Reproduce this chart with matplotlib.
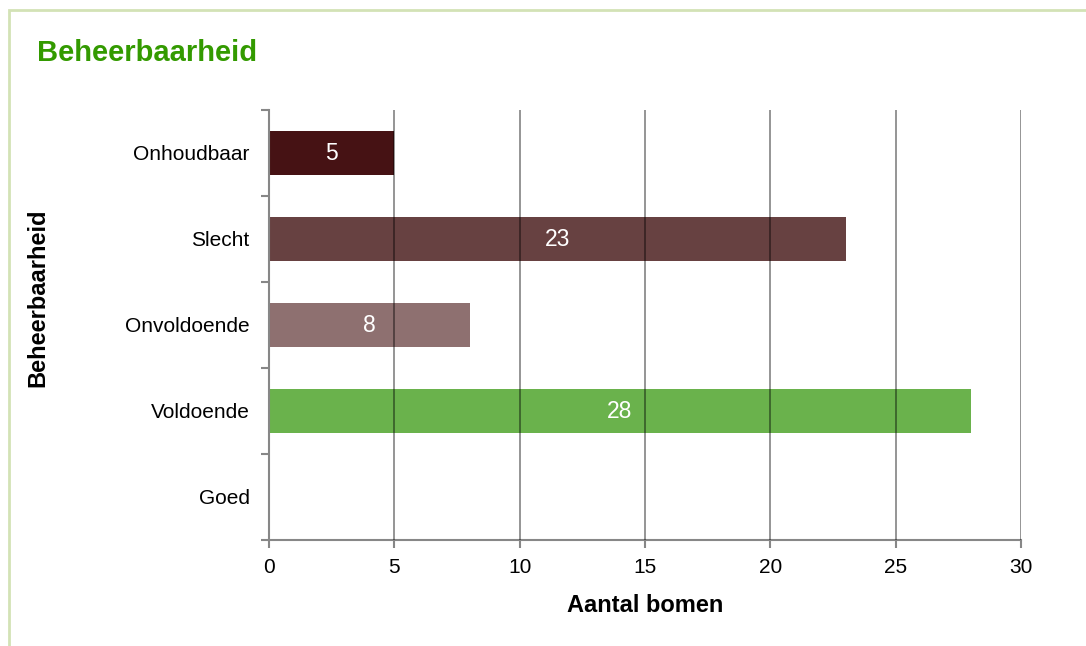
import matplotlib
matplotlib.use("Agg")
import matplotlib.pyplot as plt
from matplotlib.patches import Rectangle

plt.rcParams['font.family'] = ['Liberation Sans', 'DejaVu Sans']

categories = ["Onhoudbaar", "Slecht", "Onvoldoende", "Voldoende", "Goed"]
values = [5, 23, 8, 28, 0]
colors = ["#461214", "#674141", "#8e7070", "#6ab24c", "#6ab24c"]
xticks = [0, 5, 10, 15, 20, 25, 30]

W, H = 1086, 646
fig = plt.figure(figsize=(W / 100, H / 100), dpi=100)
fig.patches.append(Rectangle((9/W, -0.05), 1.2, 1 - 10/H + 0.05,
                             transform=fig.transFigure, fill=False,
                             edgecolor="#d3e2b6", linewidth=2, zorder=0))
fig.text(37/W, 1 - 53/H, "Beheerbaarheid", color="#339a00",
         fontsize=21, fontweight="bold", va="center", ha="left")

ax = fig.add_axes([269/W, 1 - 540/H, (1021 - 269)/W, (540 - 110)/H])
ypos = list(range(len(categories)))
bars = ax.barh(ypos, values, height=0.51, color=colors, zorder=2)
for b, v in zip(bars, values):
    if v > 0:
        ax.text(v / 2, b.get_y() + b.get_height() / 2, str(v), color="white",
                ha="center", va="center", fontsize=16.5, zorder=4)

ax.set_xlim(0, 30)
ax.set_ylim(len(categories) - 0.5, -0.5)
ax.set_yticks(ypos)
ax.set_yticklabels(categories, fontsize=15)
ax.set_yticks([i - 0.5 for i in range(len(categories) + 1)], minor=True)
ax.tick_params(axis='y', which='major', length=0, pad=14)
ax.tick_params(axis='y', which='minor', length=6, width=1.5, color="#878787", direction='out')
ax.set_xticks(xticks)
ax.set_xticklabels([str(x) for x in xticks], fontsize=15)
ax.tick_params(axis='x', length=6, width=1.5, color="#878787", direction='out', pad=7)

for x in xticks[1:]:
    ax.axvline(x, color="black", alpha=0.45, linewidth=1.3, zorder=3)

for s in ["top", "right"]:
    ax.spines[s].set_visible(False)
for s in ["left", "bottom"]:
    ax.spines[s].set_color("#878787")
    ax.spines[s].set_linewidth(1.5)

fig.text(645/W, 1 - 606/H, "Aantal bomen", fontsize=17, fontweight="bold",
         ha="center", va="center")
fig.text(38/W, 1 - 298/H, "Beheerbaarheid", fontsize=17, fontweight="bold",
         ha="center", va="center", rotation=90)

fig.savefig("out.png", dpi=100)
